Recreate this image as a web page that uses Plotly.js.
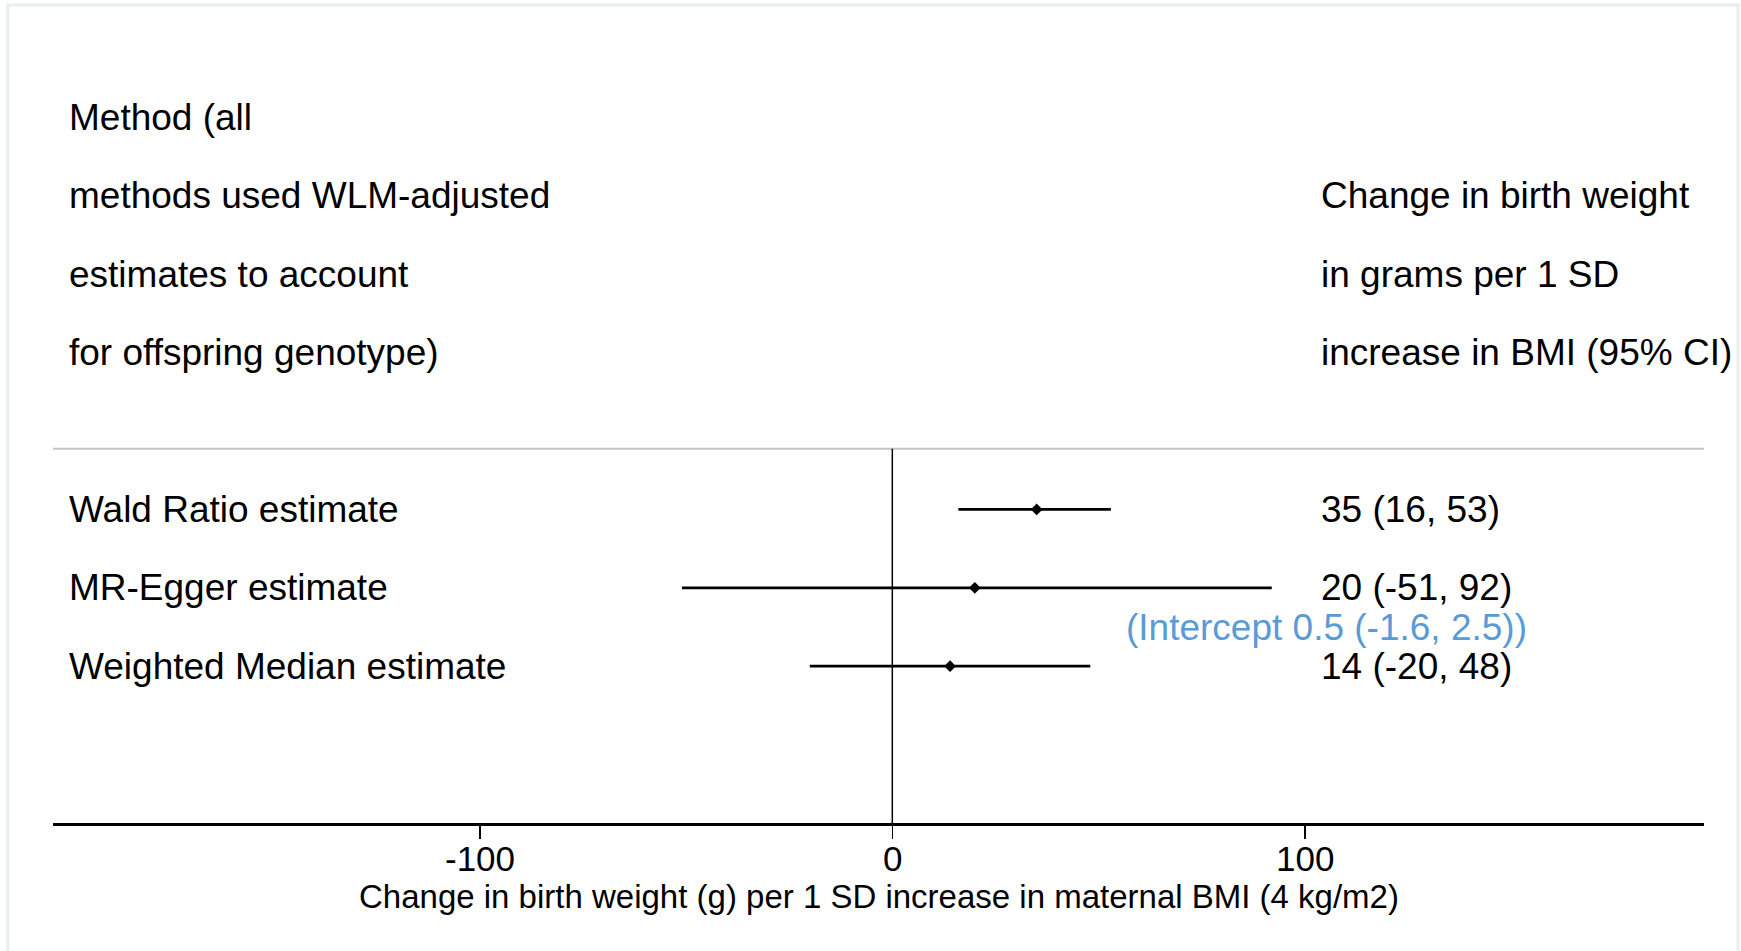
<!DOCTYPE html>
<html>
<head>
<meta charset="utf-8">
<script src="https://cdn.plot.ly/plotly-3.0.1.min.js"></script>
<style>html,body{margin:0;padding:0;background:#fff;}#chart{width:1741px;height:951px;}</style>
</head>
<body>
<div id="chart"></div>
<script>
// ---- data ----
const methods = ["Wald Ratio estimate", "MR-Egger estimate", "Weighted Median estimate"];
const estimates = [35, 20, 14];
const lower = [16, -51, -20];
const upper = [53, 92, 48];
const rowPos = [6, 7, 8];
const estimateLabels = ["35 (16, 53)", "20 (-51, 92)", "14 (-20, 48)"];
const interceptLabel = "(Intercept 0.5 (-1.6, 2.5))";
const leftHeader = ["Method (all", "methods used WLM-adjusted", "estimates to account", "for offspring genotype)"];
const rightHeader = ["Change in birth weight", "in grams per 1 SD", "increase in BMI (95% CI)"];
const tickValues = [-100, 0, 100];
const tickLabels = ["-100", "0", "100"];
const xTitle = "Change in birth weight (g) per 1 SD increase in maternal BMI (4 kg/m2)";

const FONT = "Liberation Sans, Arial, Helvetica, sans-serif";
const FS = 37;

const traces = [];
// CI lines
methods.forEach((m, i) => {
  traces.push({
    type: "scatter", mode: "lines",
    x: [lower[i], upper[i]], y: [rowPos[i], rowPos[i]],
    line: {color: "#000", width: 2.8},
    hoverinfo: "skip", showlegend: false
  });
});
// point estimates
traces.push({
  type: "scatter", mode: "markers",
  x: estimates, y: rowPos, text: methods,
  marker: {symbol: "diamond", size: 9, color: "#000"},
  showlegend: false
});

const annotations = [];
leftHeader.forEach((t, i) => annotations.push({
  x: -200, y: i + 1, xref: "x", yref: "y", text: t, showarrow: false,
  xanchor: "left", yanchor: "middle", font: {family: FONT, size: FS, color: "#000"}
}));
// right header starts at row 2
rightHeader.forEach((t, i) => annotations.push({
  x: 103.5, y: i + 2, xref: "x", yref: "y", text: t, showarrow: false,
  xanchor: "left", yanchor: "middle", font: {family: FONT, size: FS, color: "#000"}
}));
methods.forEach((m, i) => {
  annotations.push({
    x: -200, y: rowPos[i], xref: "x", yref: "y", text: m, showarrow: false,
    xanchor: "left", yanchor: "middle", font: {family: FONT, size: FS, color: "#000"}
  });
  annotations.push({
    x: 103.5, y: rowPos[i], xref: "x", yref: "y", text: estimateLabels[i], showarrow: false,
    xanchor: "left", yanchor: "middle", font: {family: FONT, size: FS, color: "#000"}
  });
});
annotations.push({
  x: 105.3, y: 7.5, xref: "x", yref: "y", text: interceptLabel, showarrow: false,
  xanchor: "center", yanchor: "middle", font: {family: FONT, size: FS, color: "#5b9bd5"}
});
// tick labels (placed close to the axis like the original)
tickValues.forEach((v, i) => annotations.push({
  x: v, y: 0, xref: "x", yref: "paper", text: tickLabels[i], showarrow: false,
  xanchor: "center", yanchor: "middle", yshift: -35,
  font: {family: FONT, size: 35, color: "#000"}
}));
// axis title
annotations.push({
  x: 0.5, y: 0, xref: "paper", yref: "paper", text: xTitle, showarrow: false,
  xanchor: "center", yanchor: "middle", yshift: -73,
  font: {family: FONT, size: 33, color: "#000"}
});

const layout = {
  width: 1741, height: 951,
  margin: {l: 53, r: 37, t: 39, b: 128},
  paper_bgcolor: "#fff", plot_bgcolor: "#fff",
  showlegend: false,
  font: {family: FONT, size: FS, color: "#000"},
  xaxis: {
    range: [-203.5, 196.8], showgrid: false, zeroline: false,
    showline: true, linecolor: "#000", linewidth: 2.5,
    ticks: "outside", ticklen: 13, tickwidth: 1.5, tickcolor: "#000",
    tickvals: tickValues, showticklabels: false,
    fixedrange: true
  },
  yaxis: {
    range: [10, 0], showgrid: false, zeroline: false, showline: false,
    showticklabels: false, ticks: "", fixedrange: true
  },
  shapes: [
    {type: "line", xref: "paper", yref: "y", x0: 0, x1: 1, y0: 5.225, y1: 5.225,
     line: {color: "#c4c4c4", width: 2}},
    {type: "line", xref: "x", yref: "y", x0: 0, x1: 0, y0: 5.225, y1: 10,
     line: {color: "#000", width: 1.5}},
    {type: "rect", xref: "paper", yref: "paper", x0: -0.0273, x1: 1.0206, y0: -0.2, y1: 1.0434,
     line: {color: "#e6eeee", width: 3}, layer: "below"}
  ],
  annotations: annotations
};

Plotly.newPlot("chart", traces, layout, {displayModeBar: false, staticPlot: true});
</script>
</body>
</html>
